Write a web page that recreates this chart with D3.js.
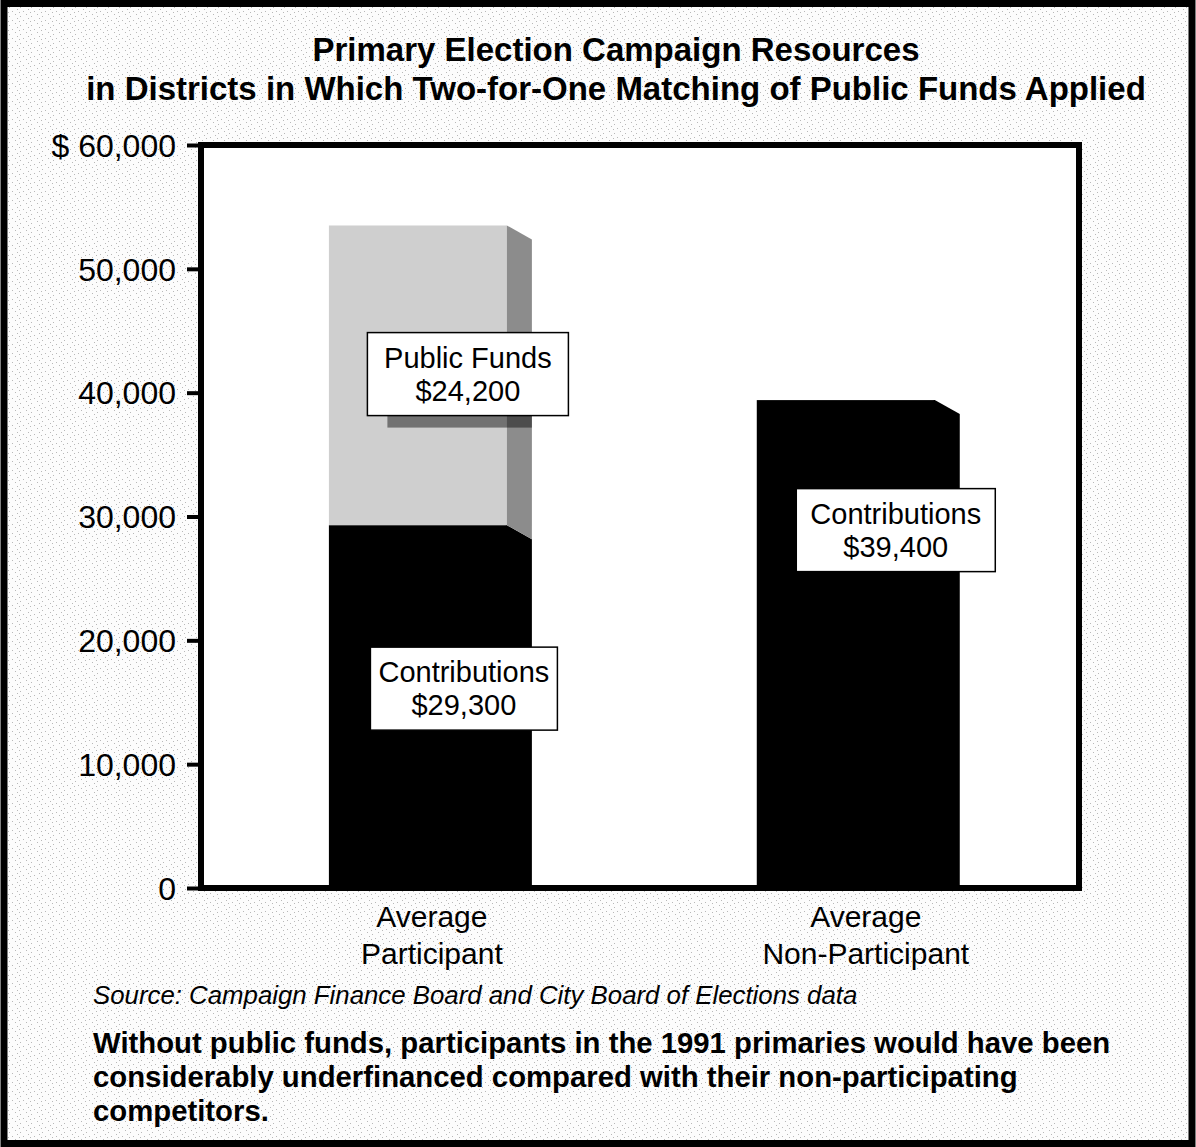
<!DOCTYPE html>
<html>
<head>
<meta charset="utf-8">
<script src="https://cdn.jsdelivr.net/npm/d3@7"></script>
<style>
  html, body { margin: 0; padding: 0; background: #fff; }
  svg { display: block; }
</style>
</head>
<body>
<svg id="chart" width="1196" height="1147"></svg>
<script>
// ---- data ----
const categories = ["Average Participant", "Average Non-Participant"];
const categoryLines = [["Average", "Participant"], ["Average", "Non-Participant"]];
const contributions = [29300, 39400];
const publicFunds = [24200, 0];
const yTicks = [0, 10000, 20000, 30000, 40000, 50000, 60000];
const yTickLabels = ["0", "10,000", "20,000", "30,000", "40,000", "50,000", "$ 60,000"];
const titleLines = ["Primary Election Campaign Resources",
                    "in Districts in Which Two-for-One Matching of Public Funds Applied"];
const sourceText = "Source: Campaign Finance Board and City Board of Elections data";
const noteLines = ["Without public funds, participants in the 1991 primaries would have been",
                   "considerably underfinanced compared with their non-participating",
                   "competitors."];
// value labels
const labelCats = [0, 0, 1];
const labelNames = ["Public Funds", "Contributions", "Contributions"];
const labelValues = [24200, 29300, 39400];
const labelAnchors = [41500, 16100, 28900];

// ---- layout ----
const W = 1196, H = 1147;
const plot = { left: 201, top: 145, right: 1079, bottom: 888 };
const depthX = 25, depthY = 14;

const svg = d3.select("#chart");
const defs = svg.append("defs");

// stippled paper background
const pat = defs.append("pattern").attr("id", "stipple")
  .attr("width", 11).attr("height", 9).attr("patternUnits", "userSpaceOnUse");
pat.append("rect").attr("width", 11).attr("height", 9).attr("fill", "#fcfcfc");
[[1, 2], [6, 0], [4, 5], [9, 7], [8, 3]].forEach(([px, py]) =>
  pat.append("rect").attr("x", px).attr("y", py).attr("width", 1).attr("height", 1).attr("fill", "#b8b8b8"));

svg.append("rect").attr("x", 4).attr("y", 3.5).attr("width", W - 8).attr("height", H - 7)
  .attr("fill", "url(#stipple)").attr("stroke", "#000").attr("stroke-width", 7);

const x = d3.scaleBand().domain(categories)
  .range([plot.left, plot.right]).paddingInner(0.584).paddingOuter(0.318).align(0.47);
const y = d3.scaleLinear().domain([0, 60000]).range([plot.bottom, plot.top]);
const bw = x.bandwidth();

// plot background
svg.append("rect").attr("x", plot.left).attr("y", plot.top)
  .attr("width", plot.right - plot.left).attr("height", plot.bottom - plot.top)
  .attr("fill", "#fff");

// title
const font = "'Liberation Sans', Arial, Helvetica, sans-serif";
svg.append("g").selectAll("text").data(titleLines).join("text")
  .attr("x", 616).attr("y", (d, i) => 61 + i * 39)
  .attr("text-anchor", "middle").attr("font-family", font)
  .attr("font-weight", "bold").attr("font-size", 33).attr("fill", "#000")
  .text(d => d);

// bars
const barG = svg.append("g");
categories.forEach((c, i) => {
  const x0 = x(c), x1 = x0 + bw;
  const yC = y(contributions[i]);
  const yT = y(contributions[i] + publicFunds[i]);
  const y0 = y(0);
  barG.append("rect").attr("x", x0).attr("y", yC).attr("width", bw).attr("height", y0 - yC).attr("fill", "#000");
  barG.append("polygon").attr("points",
    [[x1 - 1, yC], [x1, yC], [x1 + depthX, yC + depthY], [x1 + depthX, y0], [x1 - 1, y0]].join(" "))
    .attr("fill", "#000");
  if (publicFunds[i] > 0) {
    barG.append("rect").attr("x", x0).attr("y", yT).attr("width", bw).attr("height", yC - yT).attr("fill", "#cfcfcf");
    barG.append("polygon").attr("points",
      [[x1, yT], [x1 + depthX, yT + depthY], [x1 + depthX, yC + depthY], [x1, yC]].join(" "))
      .attr("fill", "#8c8c8c");
    defs.append("clipPath").attr("id", "pfclip" + i).append("polygon").attr("points",
      [[x0, yT], [x1, yT], [x1 + depthX, yT + depthY], [x1 + depthX, yC + depthY], [x1, yC], [x0, yC]].join(" "));
  }
});

// frame
svg.append("rect").attr("x", plot.left).attr("y", plot.top)
  .attr("width", plot.right - plot.left).attr("height", plot.bottom - plot.top)
  .attr("fill", "none").attr("stroke", "#000").attr("stroke-width", 6);

// y axis
const yAxis = d3.axisLeft(y).tickValues(yTicks)
  .tickFormat((d, i) => yTickLabels[i]).tickSize(14).tickSizeOuter(0).tickPadding(11);
const ag = svg.append("g").attr("transform", `translate(${plot.left},0)`).call(yAxis);
ag.select(".domain").remove();
ag.selectAll(".tick line").attr("stroke", "#000").attr("stroke-width", 4);
ag.selectAll(".tick text").attr("font-family", font).attr("font-size", 32).attr("fill", "#000")
  .attr("dy", "0.35em");

// value label boxes
const boxW = [201, 187, 199], boxH = 83;
const lg = svg.append("g");
labelCats.forEach((ci, k) => {
  const cx = x(categories[ci]) + bw / 2 + (k === 1 ? 46 : 50);
  const cy = y(labelAnchors[k]);
  const bx = cx - boxW[k] / 2, by = cy - boxH / 2;
  if (k === 0) {
    lg.append("rect").attr("x", bx + 20).attr("y", by + 12).attr("width", boxW[k]).attr("height", boxH)
      .attr("fill", "#000").attr("opacity", 0.45).attr("clip-path", "url(#pfclip0)");
  }
  lg.append("rect").attr("x", bx).attr("y", by).attr("width", boxW[k]).attr("height", boxH)
    .attr("fill", "#fff").attr("stroke", "#000").attr("stroke-width", 1.5);
  const lines = [labelNames[k], "$" + d3.format(",")(labelValues[k])];
  lg.append("g").selectAll("text").data(lines).join("text")
    .attr("x", cx).attr("y", (d, j) => by + 35 + j * 33)
    .attr("text-anchor", "middle").attr("font-family", font).attr("font-size", 29).attr("fill", "#000")
    .text(d => d);
});

// category labels
const cg = svg.append("g");
categories.forEach((c, i) => {
  cg.append("g").selectAll("text").data(categoryLines[i]).join("text")
    .attr("x", x(c) + bw / 2 + (i === 0 ? 14 : 20)).attr("y", (d, j) => 927 + j * 37)
    .attr("text-anchor", "middle").attr("font-family", font).attr("font-size", 30).attr("fill", "#000")
    .text(d => d);
});

// source
svg.append("text").attr("x", 93).attr("y", 1004)
  .attr("font-family", font).attr("font-style", "italic").attr("font-size", 25.8).attr("fill", "#000")
  .text(sourceText);

// note
svg.append("g").selectAll("text").data(noteLines).join("text")
  .attr("x", 93).attr("y", (d, i) => 1053 + i * 34)
  .attr("font-family", font).attr("font-weight", "bold").attr("font-size", 29.3).attr("fill", "#000")
  .text(d => d);
</script>
</body>
</html>
